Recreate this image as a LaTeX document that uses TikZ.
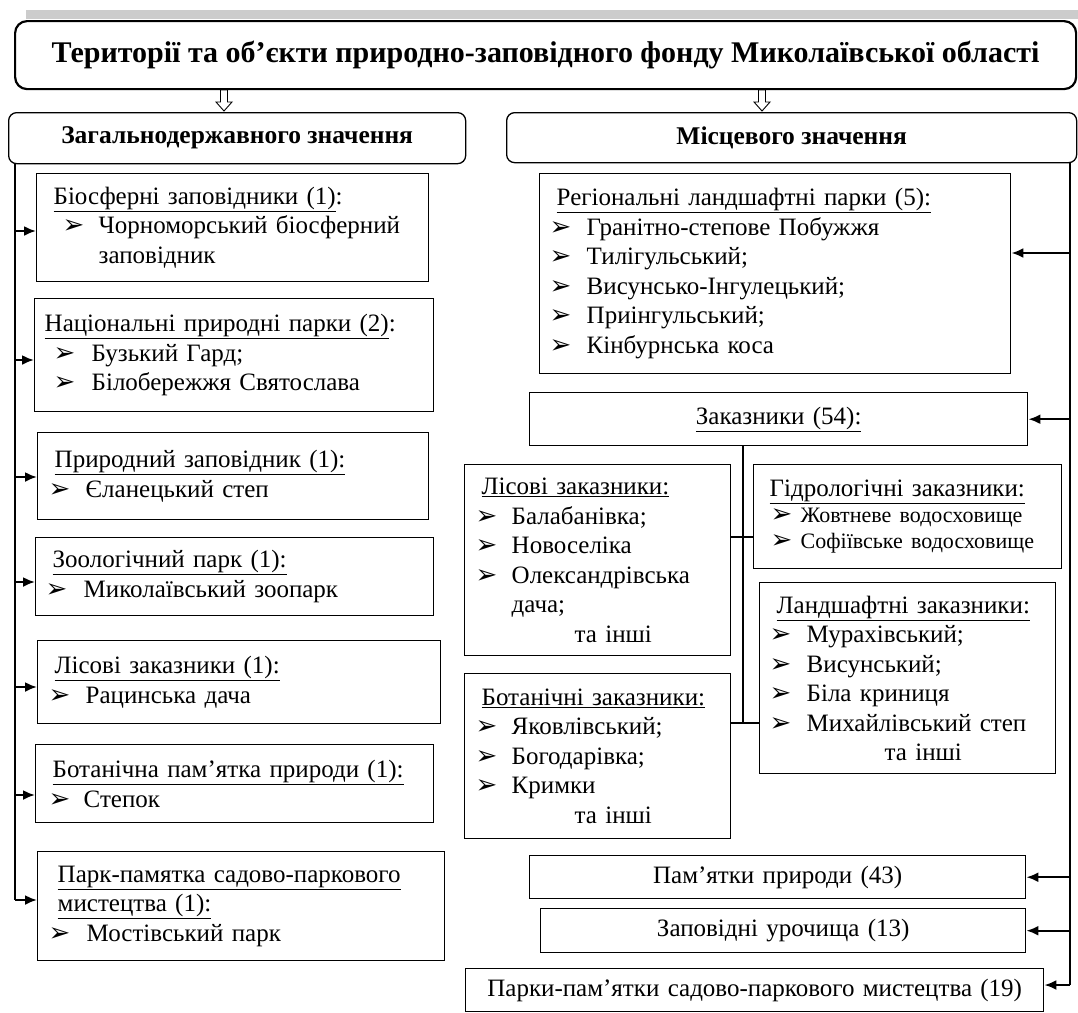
\documentclass[tikz,border=0pt]{standalone}
\usepackage{fontspec}
\setmainfont{Liberation Serif}
\newfontfamily\bulfont{DejaVu Sans}
\usetikzlibrary{arrows.meta}
\newcommand\bul{{\bulfont\fontsize{26}{26}\selectfont ➢}}
\newcommand\bl[2]{\hspace*{#1pt}\makebox[#2pt][l]{\bul}}
\newcommand\ind[1]{\hspace*{#1pt}}
\newcommand\harrow[1]{\draw[line width=0.9pt, fill=white] (#1-3.5,90) -- (#1-3.5,102) -- (#1-8,102) -- (#1,111) -- (#1+8,102) -- (#1+3.5,102) -- (#1+3.5,90) -- cycle;}
\tikzset{
  box/.style={draw, line width=1.4pt, inner sep=0pt, anchor=north west, align=left, font=\fontsize{25}{29.5}\selectfont},
  cbox/.style={box, align=center},
  grp/.style={draw, line width=1.3pt, rounded corners=8pt, inner sep=0pt, anchor=north west, align=center, font=\bfseries\fontsize{25.5}{30}\selectfont},
  ttl/.style={draw, line width=2.2pt, rounded corners=12pt, inner sep=0pt, anchor=north west, align=center, font=\bfseries\fontsize{30}{34}\selectfont},
  trunk/.style={line width=2.2pt},
  arr/.style={line width=2.2pt, -{Latex[length=12pt,width=10pt]}},
  tree/.style={line width=1.4pt},
}
\begin{document}
\begin{tikzpicture}[x=1pt,y=-1pt]
\useasboundingbox (0,0) rectangle (1078,1012);
\fill[gray!40] (26,10) rectangle (1078,19);
\node[ttl, minimum width=1061pt, minimum height=68pt] (T) at (14,20) {Території та об’єкти природно-заповідного фонду Миколаївської області};
\harrow{224}
\harrow{762}
\node[grp, minimum width=457pt, minimum height=51pt] (gl) at (8,112) {Загальнодержавного значення};
\node[grp, minimum width=570pt, minimum height=50pt] (gr) at (506,112) {Місцевого значення};

% left column
\node[box, text width=392pt, minimum height=108pt] (b1) at (36,173) {\ind{17}\underline{Біосферні заповідники (1)}:\\ \bl{26}{36}Чорноморський біосферний\\ \ind{62}заповідник};
\node[box, text width=399pt, minimum height=113pt] (b2) at (34,298) {\ind{10}\underline{Національні природні парки (2)}:\\ \bl{19}{38}Бузький Гард;\\ \bl{19}{38}Білобережжя Святослава};
\node[box, text width=391pt, minimum height=87pt] (b3) at (37,432) {\ind{17}\underline{Природний заповідник (1):}\\ \bl{11}{37}Єланецький степ\\[-8pt]};
\node[box, text width=398pt, minimum height=78pt] (b4) at (35,537) {\ind{17}\underline{Зоологічний парк (1):}\\ \bl{10}{38}Миколаївський зоопарк};
\node[box, text width=403pt, minimum height=83pt] (b5) at (37,640) {\ind{17}\underline{Лісові заказники (1):}\\ \bl{11}{37}Рацинська дача};
\node[box, text width=398pt, minimum height=78pt] (b6) at (35,744) {\ind{17}\underline{Ботанічна пам’ятка природи (1):}\\ \bl{13}{35}Степок};
\node[box, text width=407pt, minimum height=109pt] (b7) at (37,851) {\ind{20}\underline{Парк-памятка садово-паркового}\\ \ind{20}\underline{мистецтва (1):}\\ \bl{11}{38}Мостівський парк};

\coordinate (lb) at (15,900);
\draw[trunk] (gl.south -| lb) -- (lb);
\draw[arr] (lb |- 0,231) -- (b1.west |- 0,231);
\draw[arr] (lb |- 0,360) -- (b2.west |- 0,360);
\draw[arr] (lb |- 0,477) -- (b3.west |- 0,477);
\draw[arr] (lb |- 0,582) -- (b4.west |- 0,582);
\draw[arr] (lb |- 0,687) -- (b5.west |- 0,687);
\draw[arr] (lb |- 0,795) -- (b6.west |- 0,795);
\draw[arr] (lb) -- (b7.west |- lb);

% right column
\node[box, text width=471pt, minimum height=200pt] (r1) at (539,173) {\ind{17}\underline{Регіональні ландшафтні парки (5):}\\ \bl{10}{37}Гранітно-степове Побужжя\\ \bl{10}{37}Тилігульський;\\ \bl{10}{37}Висунсько-Інгулецький;\\ \bl{10}{37}Приінгульський;\\ \bl{10}{37}Кінбурнська коса};
\node[cbox, text width=498pt, minimum height=53pt] (r2) at (529,392) {\underline{Заказники (54):}};
\node[box, text width=266pt, minimum height=191pt] (r3) at (464,464) {\ind{17}\underline{Лісові заказники:}\\ \bl{11}{36}Балабанівка;\\ \bl{11}{36}Новоселіка\\ \bl{11}{36}Олександрівська\\ \ind{47}дача;\\ \ind{110}та інші};
\node[box, text width=308pt, minimum height=104pt, font=\fontsize{25}{26}\selectfont] (r4) at (753,464) {\ind{16}\underline{Гідрологічні заказники:}\\ {\fontsize{22}{26}\selectfont\bl{17}{30}Жовтневе водосховище\\ \bl{17}{30}Софіївське водосховище}};
\node[box, text width=296pt, minimum height=191pt] (r5) at (759,582) {\ind{17}\underline{Ландшафтні заказники:}\\ \bl{10}{37}Мурахівський;\\ \bl{10}{37}Висунський;\\ \bl{10}{37}Біла криниця\\ \bl{10}{37}Михайлівський степ\\ \ind{125}та інші};
\node[box, text width=266pt, minimum height=165pt] (r6) at (464,673) {\ind{17}\underline{Ботанічні заказники:}\\ \bl{11}{36}Яковлівський;\\ \bl{11}{36}Богодарівка;\\ \bl{11}{36}Кримки\\ \ind{110}та інші};
\node[cbox, text width=496pt, minimum height=43pt] (r7) at (529,855) {Пам’ятки природи (43)};
\node[cbox, text width=485pt, minimum height=44pt] (r8) at (540,908) {Заповідні урочища (13)};
\node[cbox, text width=578pt, minimum height=43pt] (r9) at (465,968) {Парки-пам’ятки садово-паркового мистецтва (19)};

\coordinate (rb) at (1070,985);
\draw[trunk] (gr.south -| rb) -- (rb);
\draw[arr] (rb |- 0,253) -- (r1.east |- 0,253);
\draw[arr] (rb |- r2.east) -- (r2.east);
\draw[arr] (rb |- r7.east) -- (r7.east);
\draw[arr] (rb |- r8.east) -- (r8.east);
\draw[arr] (rb) -- (r9.east |- rb);

\coordinate (tj) at (743,723);
\draw[tree] (r2.south -| tj) -- (tj);
\draw[tree] (r3.east |- 0,537) -- (r4.west |- 0,537);
\draw[tree] (r6.east |- tj) -- (r5.west |- tj);
\end{tikzpicture}
\end{document}
